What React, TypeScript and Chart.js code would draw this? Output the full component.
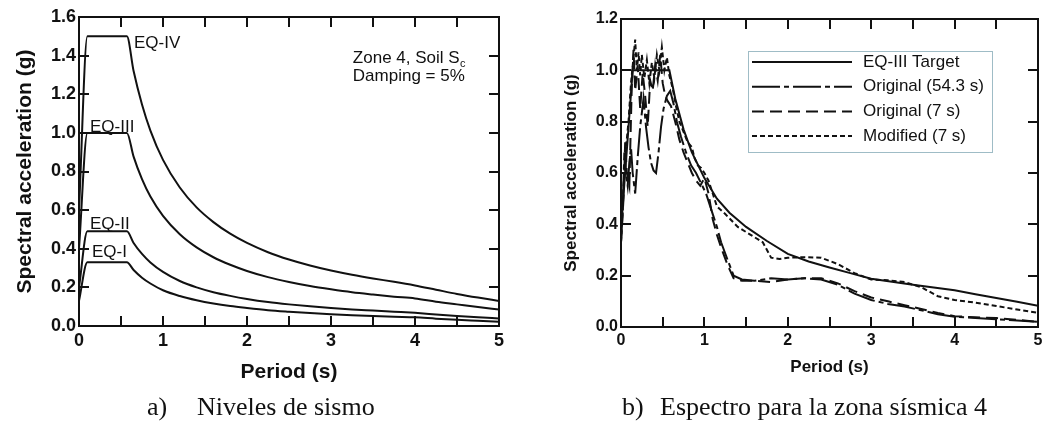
import React, { useEffect, useRef } from "react";
import { Chart, registerables } from "chart.js";

Chart.register(...registerables);

// ---------------- (a) Niveles de sismo ----------------
const PERIODS_A = [0, 0.1, 0.57, 0.65, 0.75, 0.85, 1.0, 1.2, 1.4, 1.6, 1.8, 2.0, 2.25, 2.5, 2.75, 3.0, 3.25, 3.5, 3.75, 4.0, 4.25, 4.5, 4.75, 5.0];
const EQ_IV = [0.6, 1.5, 1.5, 1.32, 1.147, 1.012, 0.86, 0.717, 0.614, 0.538, 0.478, 0.43, 0.382, 0.344, 0.313, 0.287, 0.265, 0.246, 0.229, 0.21, 0.188, 0.166, 0.147, 0.13];
const EQ_III = [0.4, 1.0, 1.0, 0.877, 0.76, 0.67, 0.57, 0.475, 0.407, 0.356, 0.317, 0.285, 0.253, 0.228, 0.207, 0.19, 0.175, 0.163, 0.152, 0.143, 0.126, 0.112, 0.098, 0.085];
const EQ_II = [0.2, 0.49, 0.49, 0.43, 0.373, 0.329, 0.28, 0.233, 0.2, 0.175, 0.156, 0.14, 0.124, 0.112, 0.102, 0.093, 0.086, 0.08, 0.074, 0.068, 0.06, 0.052, 0.045, 0.039];
const EQ_I = [0.13, 0.33, 0.33, 0.29, 0.25, 0.22, 0.185, 0.155, 0.133, 0.116, 0.103, 0.093, 0.082, 0.074, 0.067, 0.061, 0.056, 0.052, 0.048, 0.045, 0.038, 0.032, 0.027, 0.022];
const SERIES_A_NAMES = ["EQ-IV", "EQ-III", "EQ-II", "EQ-I"];
const NOTES_A = [
  { text: "EQ-IV", x: 0.655, y: 1.466 },
  { text: "EQ-III", x: 0.131, y: 1.03 },
  { text: "EQ-II", x: 0.131, y: 0.528 },
  { text: "EQ-I", x: 0.155, y: 0.383 },
  { text: "Zone 4, Soil S", sub: "c", x: 3.26, y: 1.385 },
  { text: "Damping = 5%", x: 3.26, y: 1.295 },
];

// ---------------- (b) Espectro para la zona sísmica 4 ----------------
const PERIODS_TARGET = [0, 0.14, 0.58, 0.65, 0.75, 0.85, 1.0, 1.15, 1.3, 1.5, 1.75, 2.0, 2.25, 2.5, 2.75, 3.0, 3.25, 3.5, 3.75, 4.0, 4.25, 4.5, 4.75, 5.0];
const TARGET = [0.38, 1.0, 1.0, 0.89, 0.77, 0.68, 0.58, 0.5, 0.445, 0.39, 0.335, 0.285, 0.255, 0.232, 0.21, 0.188, 0.176, 0.165, 0.154, 0.143, 0.128, 0.113, 0.098, 0.083];

const PERIODS_ORIG_54 = [0, 0.02, 0.04, 0.06, 0.08, 0.1, 0.12, 0.14, 0.17, 0.2, 0.23, 0.27, 0.3, 0.33, 0.36, 0.39, 0.42, 0.45, 0.48, 0.51, 0.55, 0.59, 0.63, 0.67, 0.72, 0.78, 0.84, 0.9, 0.96, 1.02, 1.07, 1.1, 1.15, 1.2, 1.28, 1.35, 1.45, 1.6, 1.8, 2.0, 2.2, 2.4, 2.6, 2.8, 3.0, 3.2, 3.4, 3.6, 3.8, 4.0, 4.25, 4.5, 4.75, 5.0];
const ORIG_54 = [0.33, 0.45, 0.68, 0.6, 0.55, 0.64, 0.7, 0.6, 0.52, 0.66, 0.78, 0.89, 0.78, 0.7, 0.64, 0.61, 0.6, 0.68, 0.78, 0.85, 0.9, 0.92, 0.87, 0.8, 0.74, 0.68, 0.63, 0.6, 0.56, 0.52, 0.47, 0.44, 0.39, 0.33, 0.26, 0.2, 0.185, 0.18, 0.19, 0.185, 0.19, 0.185, 0.165, 0.13, 0.105, 0.09, 0.08, 0.065, 0.05, 0.04, 0.035, 0.03, 0.025, 0.02];

const PERIODS_ORIG_7 = [0, 0.03, 0.05, 0.07, 0.1, 0.13, 0.15, 0.17, 0.2, 0.23, 0.26, 0.29, 0.32, 0.35, 0.38, 0.41, 0.44, 0.47, 0.5, 0.53, 0.56, 0.6, 0.65, 0.7, 0.75, 0.8, 0.85, 0.9, 0.95, 1.0, 1.05, 1.1, 1.15, 1.2, 1.28, 1.35, 1.45, 1.6, 1.8, 2.0, 2.2, 2.4, 2.6, 2.8, 3.0, 3.2, 3.4, 3.6, 3.8, 4.0, 4.25, 4.5, 4.75, 5.0];
const ORIG_7 = [0.33, 0.5, 0.72, 0.6, 0.55, 0.95, 1.08, 0.92, 1.02, 0.85, 0.99, 0.9, 0.78, 0.96, 0.92, 1.02, 0.96, 1.06, 0.95, 0.9, 0.88, 0.86, 0.8, 0.73, 0.68, 0.64, 0.6, 0.57, 0.55, 0.58, 0.52, 0.42, 0.36, 0.31, 0.24, 0.19, 0.18, 0.18, 0.175, 0.185, 0.19, 0.19, 0.17, 0.14, 0.115, 0.1, 0.085, 0.07, 0.055, 0.042, 0.038, 0.035, 0.028, 0.02];

const PERIODS_MOD_7 = [0, 0.03, 0.06, 0.09, 0.12, 0.15, 0.17, 0.19, 0.21, 0.23, 0.25, 0.28, 0.31, 0.34, 0.37, 0.4, 0.43, 0.46, 0.49, 0.52, 0.55, 0.58, 0.62, 0.66, 0.7, 0.75, 0.8, 0.85, 0.88, 0.92, 0.96, 1.0, 1.05, 1.1, 1.15, 1.25, 1.4, 1.55, 1.7, 1.8, 1.9, 2.0, 2.2, 2.4, 2.6, 2.8, 3.0, 3.2, 3.4, 3.6, 3.8, 4.0, 4.25, 4.5, 4.75, 5.0];
const MOD_7 = [0.33, 0.55, 0.7, 0.8, 0.95, 1.05, 1.12, 1.0, 1.07, 0.98, 1.06, 0.97, 1.04, 0.95, 1.03, 0.97, 1.06, 1.0, 1.09, 1.0, 1.05, 0.98, 0.93, 0.86, 0.8, 0.76, 0.72, 0.7, 0.66, 0.63, 0.62, 0.6, 0.57, 0.52, 0.47, 0.44, 0.39, 0.36, 0.33, 0.27, 0.265, 0.27, 0.272, 0.27, 0.245, 0.21, 0.185, 0.182, 0.175, 0.155, 0.12, 0.105, 0.095, 0.082, 0.068, 0.055];

const SERIES_B_NAMES = ["EQ-III Target", "Original (54.3 s)", "Original (7 s)", "Modified (7 s)"];

const X_LABEL = "Period (s)";
const Y_LABEL = "Spectral acceleration (g)";
const CAPTION_A = ["a)", "Niveles de sismo"];
const CAPTION_B = ["b)", "Espectro para la zona sísmica 4"];

const SANS = "'Liberation Sans', Arial, Helvetica, sans-serif";
const SERIF = "'Liberation Serif', 'Times New Roman', serif";
const INK = "#111";

const pts = (xs: number[], ys: number[]) => xs.map((x, i) => ({ x, y: ys[i] }));

const frameTicks = {
  id: "frameTicks",
  afterDatasetsDraw(chart: any, _args: any, opts: any) {
    const { ctx, chartArea: a, scales } = chart;
    const L = opts.len || 10;
    ctx.save();
    ctx.strokeStyle = INK;
    ctx.lineWidth = 2;
    ctx.beginPath();
    scales.x.ticks.forEach((t: any) => {
      const px = Math.round(scales.x.getPixelForValue(t.value));
      if (px <= a.left + 1 || px >= a.right - 1) return;
      ctx.moveTo(px, a.bottom);
      ctx.lineTo(px, a.bottom - L);
      ctx.moveTo(px, a.top);
      ctx.lineTo(px, a.top + L);
    });
    scales.y.ticks.forEach((t: any) => {
      const py = Math.round(scales.y.getPixelForValue(t.value));
      if (py <= a.top + 1 || py >= a.bottom - 1) return;
      ctx.moveTo(a.left, py);
      ctx.lineTo(a.left + L, py);
      ctx.moveTo(a.right, py);
      ctx.lineTo(a.right - L, py);
    });
    ctx.stroke();
    ctx.lineWidth = 2;
    ctx.strokeRect(a.left, a.top, a.right - a.left, a.bottom - a.top);
    ctx.restore();
  },
};

const notesPlugin = {
  id: "notes",
  afterDraw(chart: any, _args: any, opts: any) {
    const items = opts.items || [];
    if (!items.length) return;
    const { ctx, scales } = chart;
    ctx.save();
    ctx.fillStyle = INK;
    ctx.textBaseline = "middle";
    ctx.textAlign = "left";
    items.forEach((n: any) => {
      const px = scales.x.getPixelForValue(n.x);
      const py = scales.y.getPixelForValue(n.y);
      ctx.font = `17px ${SANS}`;
      ctx.fillText(n.text, px, py);
      if (n.sub) {
        const w = ctx.measureText(n.text).width;
        ctx.font = `11px ${SANS}`;
        ctx.fillText(n.sub, px + w + 0.5, py + 5);
      }
    });
    ctx.restore();
  },
};

const boxLegend = {
  id: "boxLegend",
  afterDraw(chart: any, _args: any, opts: any) {
    if (!opts.show) return;
    const { ctx } = chart;
    const { x, y, w, h, lineX0, lineX1, textX, rowY, rowStep } = opts;
    ctx.save();
    ctx.strokeStyle = "#9fbcc6";
    ctx.lineWidth = 1;
    ctx.strokeRect(x + 0.5, y + 0.5, w, h);
    ctx.font = `17px ${SANS}`;
    ctx.fillStyle = INK;
    ctx.textBaseline = "middle";
    chart.data.datasets.forEach((ds: any, i: number) => {
      const yy = rowY + i * rowStep;
      ctx.strokeStyle = INK;
      ctx.lineWidth = 2;
      ctx.setLineDash(ds.borderDash || []);
      ctx.beginPath();
      ctx.moveTo(lineX0, yy);
      ctx.lineTo(lineX1, yy);
      ctx.stroke();
      ctx.setLineDash([]);
      ctx.fillText(ds.label, textX, yy);
    });
    ctx.restore();
  },
};

function axes(o: any) {
  return {
    x: {
      type: "linear",
      min: 0,
      max: 5,
      ticks: {
        stepSize: 0.5,
        autoSkip: false,
        maxRotation: 0,
        padding: o.xTickPad,
        color: INK,
        font: { family: SANS, size: o.tickSize, weight: "bold" },
        callback: (v: number) => (Math.abs(v - Math.round(v)) < 1e-6 ? String(Math.round(v)) : ""),
      },
      grid: { display: false, drawTicks: false },
      border: { display: false },
      title: {
        display: true,
        text: X_LABEL,
        color: INK,
        font: { family: SANS, size: o.titleSize, weight: "bold" },
        padding: { top: 0, bottom: o.xTitlePad },
      },
      afterFit(s: any) {
        s.height = o.xHeight;
        s.paddingLeft = 0;
        s.paddingRight = 0;
      },
    },
    y: {
      type: "linear",
      min: 0,
      max: o.yMax,
      ticks: {
        stepSize: 0.2,
        padding: 3,
        color: INK,
        font: { family: SANS, size: o.tickSize, weight: "bold" },
        callback: (v: number) => v.toFixed(1),
      },
      grid: { display: false, drawTicks: false },
      border: { display: false },
      title: {
        display: true,
        text: Y_LABEL,
        color: INK,
        font: { family: SANS, size: o.titleSize, weight: "bold" },
        padding: { top: o.yTitlePad, bottom: 0 },
      },
      afterFit(s: any) {
        s.width = o.yWidth;
        s.paddingTop = 0;
        s.paddingBottom = 0;
      },
    },
  };
}

function configA() {
  const data = [EQ_IV, EQ_III, EQ_II, EQ_I];
  return {
    type: "line",
    data: {
      datasets: data.map((ys, i) => ({
        label: SERIES_A_NAMES[i],
        data: pts(PERIODS_A, ys),
        borderColor: INK,
        borderWidth: 2,
        pointRadius: 0,
        fill: false,
        cubicInterpolationMode: "monotone",
      })),
    },
    options: {
      responsive: false,
      animation: false,
      events: [],
      layout: { padding: { top: 17, right: 21, left: 0, bottom: 0 } },
      scales: axes({ yMax: 1.6, tickSize: 18, titleSize: 21, xTickPad: 4, xTitlePad: 10.4, xHeight: 69, yWidth: 79, yTitlePad: 12.4 }),
      plugins: {
        legend: { display: false },
        tooltip: { enabled: false },
        notes: { items: NOTES_A },
        frameTicks: { len: 10 },
        boxLegend: { show: false },
      },
    },
    plugins: [frameTicks, notesPlugin, boxLegend],
  };
}

function configB() {
  const series = [
    { xs: PERIODS_TARGET, ys: TARGET, dash: [] },
    { xs: PERIODS_ORIG_54, ys: ORIG_54, dash: [28, 4, 5, 4] },
    { xs: PERIODS_ORIG_7, ys: ORIG_7, dash: [12, 6] },
    { xs: PERIODS_MOD_7, ys: MOD_7, dash: [5, 3] },
  ];
  return {
    type: "line",
    data: {
      datasets: series.map((s, i) => ({
        label: SERIES_B_NAMES[i],
        data: pts(s.xs, s.ys),
        borderColor: INK,
        borderWidth: 2,
        borderDash: s.dash,
        pointRadius: 0,
        fill: false,
        tension: 0,
      })),
    },
    options: {
      responsive: false,
      animation: false,
      events: [],
      layout: { padding: { top: 19, right: 6, left: 0, bottom: 0 } },
      scales: axes({ yMax: 1.2, tickSize: 16, titleSize: 17, xTickPad: 4.4, xTitlePad: 17.8, xHeight: 68, yWidth: 101, yTitlePad: 40.8 }),
      plugins: {
        legend: { display: false },
        tooltip: { enabled: false },
        notes: { items: [] },
        frameTicks: { len: 10 },
        boxLegend: { show: true, x: 228, y: 51, w: 244, h: 101, lineX0: 232, lineX1: 332, textX: 343, rowY: 62, rowStep: 24.7 },
      },
    },
    plugins: [frameTicks, notesPlugin, boxLegend],
  };
}

function ChartCanvas({ left, width, height, make }: { left: number; width: number; height: number; make: () => any }) {
  const ref = useRef<HTMLCanvasElement>(null);
  useEffect(() => {
    const chart = new Chart(ref.current as HTMLCanvasElement, make());
    return () => chart.destroy();
  }, []);
  return (
    <canvas
      ref={ref}
      width={width}
      height={height}
      style={{ position: "absolute", left, top: 0, width, height, display: "block" }}
    />
  );
}

function Caption({ left, gap, parts }: { left: number; gap: number; parts: string[] }) {
  const st: any = { position: "absolute", top: 392, fontFamily: SERIF, fontSize: 26, lineHeight: "30px", color: INK, whiteSpace: "nowrap" };
  return (
    <>
      <span style={{ ...st, left }}>{parts[0]}</span>
      <span style={{ ...st, left: left + gap }}>{parts[1]}</span>
    </>
  );
}

export default function App() {
  return (
    <div style={{ position: "absolute", left: 0, top: 0, width: 1044, height: 423, background: "#fff", overflow: "hidden" }}>
      <ChartCanvas left={0} width={520} height={395} make={configA} />
      <ChartCanvas left={520} width={524} height={395} make={configB} />
      <Caption left={147} gap={50} parts={CAPTION_A} />
      <Caption left={622} gap={38} parts={CAPTION_B} />
    </div>
  );
}
